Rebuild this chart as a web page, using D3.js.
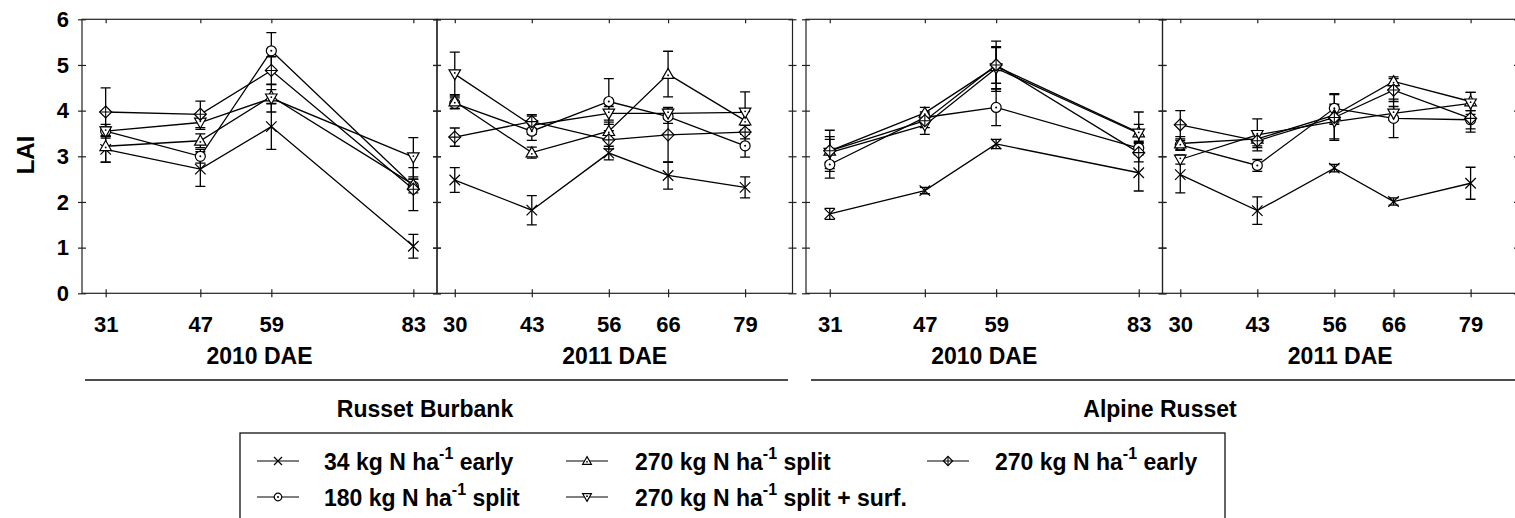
<!DOCTYPE html>
<html>
<head>
<meta charset="utf-8">
<script src="https://cdn.jsdelivr.net/npm/d3@7"></script>
<style>
  html, body { margin: 0; padding: 0; background: #fff; }
  svg { display: block; }
  text { font-family: "Liberation Sans", Arial, sans-serif; font-weight: bold; fill: #000; }
</style>
</head>
<body>
<svg id="chart" width="1515" height="518"></svg>
<script>
// Sampling days (days after emergence)
const days2010 = [31, 47, 59, 83];
const days2011 = [30, 43, 56, 66, 79];

// Treatments, in legend order
const legendPrefix = ["34 kg N ha", "180 kg N ha", "270 kg N ha", "270 kg N ha", "270 kg N ha"];
const legendSuffix = [" early", " split", " split", " split + surf.", " early"];
const markerTypes = ["cross", "circle", "triUp", "triDown", "diamond"];

// LAI means, one row per treatment
const laiBurbank2010 = [
  [3.15, 2.72, 3.65, 1.03],
  [3.55, 3.00, 5.31, 2.35],
  [3.22, 3.34, 4.31, 2.38],
  [3.55, 3.74, 4.27, 2.98],
  [3.97, 3.92, 4.88, 2.28]
];
const seBurbank2010 = [
  [0.28, 0.38, 0.50, 0.26],
  [0.15, 0.15, 0.40, 0.15],
  [0.35, 0.15, 0.15, 0.12],
  [0.10, 0.15, 0.30, 0.43],
  [0.53, 0.29, 0.30, 0.47]
];

const laiBurbank2011 = [
  [2.48, 1.82, 3.07, 2.58, 2.32],
  [4.16, 3.55, 4.20, 3.87, 3.23],
  [4.20, 3.08, 3.55, 4.80, 3.78],
  [4.80, 3.68, 3.94, 3.94, 3.96],
  [3.42, 3.76, 3.36, 3.47, 3.53]
];
const seBurbank2011 = [
  [0.27, 0.32, 0.15, 0.30, 0.23],
  [0.12, 0.20, 0.50, 0.15, 0.25],
  [0.15, 0.12, 0.20, 0.50, 0.20],
  [0.48, 0.20, 0.15, 0.12, 0.45],
  [0.20, 0.15, 0.20, 0.60, 0.15]
];

const laiAlpine2010 = [
  [1.74, 2.25, 3.27, 2.64],
  [2.82, 3.85, 4.07, 3.18],
  [3.12, 3.95, 4.97, 3.52],
  [3.08, 3.68, 4.93, 3.50],
  [3.12, 3.78, 5.00, 3.08]
];
const seAlpine2010 = [
  [0.12, 0.07, 0.10, 0.40],
  [0.30, 0.12, 0.40, 0.15],
  [0.45, 0.12, 0.55, 0.45],
  [0.35, 0.20, 0.45, 0.20],
  [0.25, 0.15, 0.40, 0.20]
];

const laiAlpine2011 = [
  [2.60, 1.81, 2.74, 2.01, 2.41],
  [3.25, 2.80, 4.05, 3.83, 3.80],
  [3.28, 3.38, 3.90, 4.64, 4.20],
  [2.93, 3.47, 3.76, 3.94, 4.16],
  [3.69, 3.34, 3.85, 4.45, 3.83]
];
const seAlpine2011 = [
  [0.40, 0.30, 0.08, 0.08, 0.35],
  [0.10, 0.13, 0.32, 0.42, 0.20],
  [0.15, 0.15, 0.20, 0.10, 0.20],
  [0.10, 0.35, 0.38, 0.15, 0.24],
  [0.31, 0.15, 0.50, 0.25, 0.30]
];

const yTicks = [0, 1, 2, 3, 4, 5, 6];
const dayDomain = [27, 87];

// Panel layout
const plotTop = 19.3, plotBottom = 293.3;
const panels = [
  { x0: 82,     x1: 437,    days: days2010, lai: laiBurbank2010, se: seBurbank2010, title: "2010 DAE", yLabels: true },
  { x0: 437,    x1: 792.5,  days: days2011, lai: laiBurbank2011, se: seBurbank2011, title: "2011 DAE" },
  { x0: 806,    x1: 1162.5, days: days2010, lai: laiAlpine2010,  se: seAlpine2010,  title: "2010 DAE" },
  { x0: 1162.5, x1: 1518,   days: days2011, lai: laiAlpine2011,  se: seAlpine2011,  title: "2011 DAE" }
];

const svg = d3.select("#chart");
const y = d3.scaleLinear().domain([0, 6]).range([plotBottom, plotTop]);
const fontStack = '"Liberation Sans", Arial, sans-serif';

function drawMarker(g, type, s) {
  const stroke = "#000", sw = 1.2;
  if (type === "cross") {
    const c = s * 1.05;
    g.append("path").attr("d", `M${-c},${-c}L${c},${c}M${-c},${c}L${c},${-c}`)
      .attr("stroke", stroke).attr("stroke-width", sw).attr("fill", "none");
  } else if (type === "circle") {
    g.append("circle").attr("r", s).attr("fill", "#fff").attr("stroke", stroke).attr("stroke-width", sw);
    g.append("circle").attr("r", 1).attr("fill", stroke);
  } else if (type === "triUp") {
    const h = s * 1.15;
    g.append("path").attr("d", `M0,${-h}L${h},${h * 0.75}L${-h},${h * 0.75}Z`)
      .attr("fill", "#fff").attr("stroke", stroke).attr("stroke-width", sw);
    g.append("circle").attr("cy", h * 0.2).attr("r", 0.9).attr("fill", stroke);
  } else if (type === "triDown") {
    const h = s * 1.15;
    g.append("path").attr("d", `M0,${h}L${h},${-h * 0.75}L${-h},${-h * 0.75}Z`)
      .attr("fill", "#fff").attr("stroke", stroke).attr("stroke-width", sw);
    g.append("circle").attr("cy", -h * 0.2).attr("r", 0.9).attr("fill", stroke);
  } else if (type === "diamond") {
    const h = s * 1.2;
    g.append("path").attr("d", `M0,${-h}L${h},0L0,${h}L${-h},0Z`)
      .attr("fill", "#fff").attr("stroke", stroke).attr("stroke-width", sw);
    g.append("path").attr("d", `M0,${-h}V${h}M${-h},0H${h}`)
      .attr("stroke", stroke).attr("stroke-width", sw * 0.9).attr("fill", "none");
  }
}

panels.forEach(p => {
  const x = d3.scaleLinear().domain(dayDomain).range([p.x0, p.x1]);
  const g = svg.append("g");

  // frame
  g.append("rect").attr("x", p.x0).attr("y", plotTop)
    .attr("width", p.x1 - p.x0).attr("height", plotBottom - plotTop)
    .attr("fill", "none").attr("stroke", "#222").attr("stroke-width", 1.2);

  // crossing y ticks on both sides
  [p.x0, p.x1].forEach(xx => {
    g.append("g").attr("transform", `translate(${xx},0)`)
      .call(d3.axisLeft(y).tickValues(yTicks).tickSize(4).tickFormat(""))
      .call(a => a.select(".domain").remove());
    g.append("g").attr("transform", `translate(${xx},0)`)
      .call(d3.axisRight(y).tickValues(yTicks).tickSize(4).tickFormat(""))
      .call(a => a.select(".domain").remove());
  });

  if (p.yLabels) {
    g.append("g").attr("transform", `translate(${p.x0},0)`)
      .call(d3.axisLeft(y).tickValues(yTicks).tickSize(0).tickPadding(13).tickFormat(d3.format("d")))
      .call(a => a.select(".domain").remove())
      .call(a => a.selectAll("text").style("font-size", "22px")
        .style("font-family", fontStack).style("font-weight", "bold"));
  }

  // x axis: ticks at the sampling days, crossing the bottom edge, inward at the top
  g.append("g").attr("transform", `translate(0,${plotBottom})`)
    .call(d3.axisBottom(x).tickValues(p.days).tickSize(4).tickPadding(19.3).tickFormat(d3.format("d")))
    .call(a => a.select(".domain").remove())
    .call(a => a.selectAll("text").style("font-size", "22px")
      .style("font-family", fontStack).style("font-weight", "bold"));
  g.append("g").attr("transform", `translate(0,${plotBottom})`)
    .call(d3.axisTop(x).tickValues(p.days).tickSize(4).tickFormat(""))
    .call(a => a.select(".domain").remove());
  g.append("g").attr("transform", `translate(0,${plotTop})`)
    .call(d3.axisBottom(x).tickValues(p.days).tickSize(4).tickFormat(""))
    .call(a => a.select(".domain").remove());
  g.selectAll(".tick line").attr("stroke", "#222").attr("stroke-width", 1.2);

  g.append("text").attr("x", (p.x0 + p.x1) / 2).attr("y", 363.5)
    .attr("text-anchor", "middle").style("font-size", "23px").text(p.title);

  // series lines
  const line = d3.line().x((d, i) => x(p.days[i])).y(d => y(d));
  p.lai.forEach(vals => {
    g.append("path").datum(vals).attr("d", line)
      .attr("fill", "none").attr("stroke", "#000").attr("stroke-width", 1.3);
  });

  // error bars
  p.lai.forEach((vals, si) => {
    vals.forEach((v, i) => {
      const e = p.se[si][i], cx = x(p.days[i]);
      const lo = y(v - e), hi = y(v + e);
      g.append("path")
        .attr("d", `M${cx},${lo}V${hi}M${cx - 5},${lo}H${cx + 5}M${cx - 5},${hi}H${cx + 5}`)
        .attr("stroke", "#000").attr("stroke-width", 1.3).attr("fill", "none");
    });
  });

  // markers
  p.lai.forEach((vals, si) => {
    vals.forEach((v, i) => {
      const m = g.append("g").attr("transform", `translate(${x(p.days[i])},${y(v)})`);
      drawMarker(m, markerTypes[si], 5);
    });
  });
});

// y axis title
svg.append("text").attr("transform", "translate(34,155) rotate(-90)")
  .attr("text-anchor", "middle").style("font-size", "24px").text("LAI");

// cultivar groups
const groups = [
  { name: "Russet Burbank", x0: 85, x1: 788, cx: 425 },
  { name: "Alpine Russet", x0: 811, x1: 1530, cx: 1160 }
];
groups.forEach(gr => {
  svg.append("line").attr("x1", gr.x0).attr("x2", gr.x1).attr("y1", 380).attr("y2", 380)
    .attr("stroke", "#111").attr("stroke-width", 1.3);
  svg.append("text").attr("x", gr.cx).attr("y", 416.5).attr("text-anchor", "middle")
    .style("font-size", "23px").text(gr.name);
});

// legend
const legend = svg.append("g");
legend.append("rect").attr("x", 240).attr("y", 433).attr("width", 985).attr("height", 120)
  .attr("fill", "#fff").attr("stroke", "#111").attr("stroke-width", 1.3);
const legendPos = [
  { mx: 278, tx: 324, cy: 461 },
  { mx: 278, tx: 324, cy: 497 },
  { mx: 587, tx: 635, cy: 461 },
  { mx: 587, tx: 635, cy: 497 },
  { mx: 948, tx: 995, cy: 461 }
];
legendPrefix.forEach((pre, i) => {
  const lp = legendPos[i];
  legend.append("line").attr("x1", lp.mx - 21).attr("x2", lp.mx + 21)
    .attr("y1", lp.cy).attr("y2", lp.cy).attr("stroke", "#000").attr("stroke-width", 1.2);
  const m = legend.append("g").attr("transform", `translate(${lp.mx},${lp.cy})`);
  drawMarker(m, markerTypes[i], 3.8);
  const t = legend.append("text").attr("x", lp.tx).attr("y", lp.cy + 8.5).style("font-size", "23px");
  t.append("tspan").text(pre);
  t.append("tspan").attr("dy", -11).style("font-size", "16px").text("-1");
  t.append("tspan").attr("dy", 11).text(legendSuffix[i]);
});
</script>
</body>
</html>
